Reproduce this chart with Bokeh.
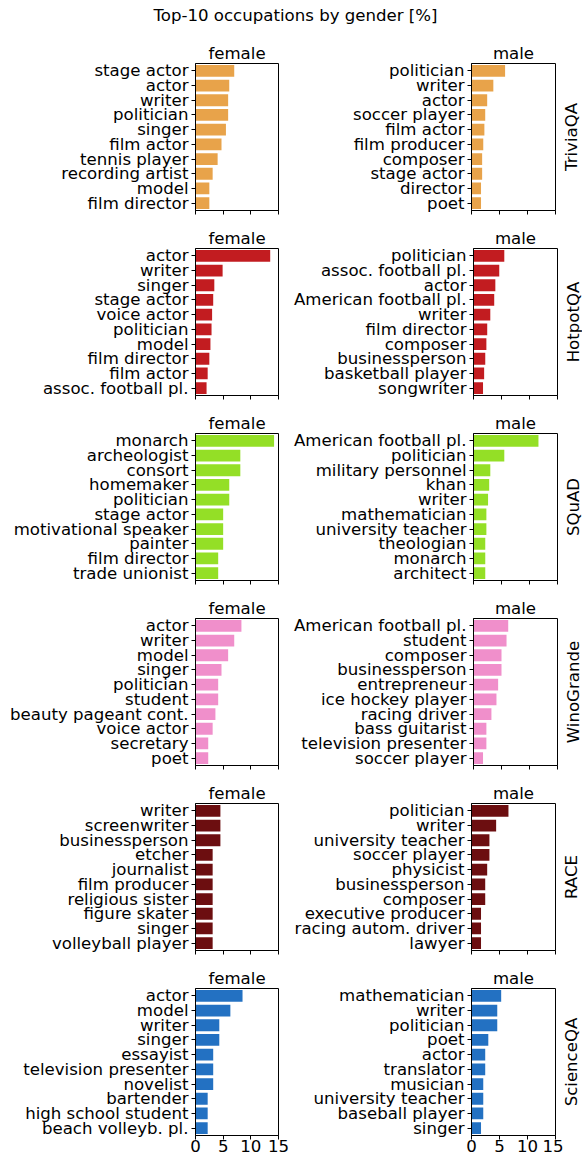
from bokeh.plotting import figure
from bokeh.models import FactorRange, Range1d, FixedTicker, ColumnDataSource
from bokeh.layouts import column, row
from bokeh.embed import file_html
from bokeh.resources import INLINE
from bokeh.core.properties import value

FONT = "DejaVu Sans"
FS = "16.6px"

suptitle = "Top-10 occupations by gender [%]"
datasets = ["TriviaQA", "HotpotQA", "SQuAD", "WinoGrande", "RACE", "ScienceQA"]
colors = ["#e8a34a", "#c21c20", "#94df26", "#f08fcb", "#6c0e10", "#2371c2"]
x_ticks = [0, 5, 10, 15]

triviaqa_female_occ = ["stage actor", "actor", "writer", "politician", "singer", "film actor",
                       "tennis player", "recording artist", "model", "film director"]
triviaqa_female_pct = [7.0, 6.1, 5.9, 5.9, 5.5, 4.7, 4.0, 3.1, 2.5, 2.5]
triviaqa_male_occ = ["politician", "writer", "actor", "soccer player", "film actor", "film producer",
                     "composer", "stage actor", "director", "poet"]
triviaqa_male_pct = [6.0, 3.9, 2.8, 2.45, 2.3, 2.1, 1.9, 1.9, 1.7, 1.7]

hotpotqa_female_occ = ["actor", "writer", "singer", "stage actor", "voice actor", "politician",
                       "model", "film director", "film actor", "assoc. football pl."]
hotpotqa_female_pct = [13.5, 4.9, 3.4, 3.2, 3.0, 2.9, 2.7, 2.5, 2.2, 2.0]
hotpotqa_male_occ = ["politician", "assoc. football pl.", "actor", "American football pl.", "writer",
                     "film director", "composer", "businessperson", "basketball player", "songwriter"]
hotpotqa_male_pct = [5.5, 4.6, 3.9, 3.7, 3.0, 2.45, 2.3, 2.1, 1.9, 1.7]

squad_female_occ = ["monarch", "archeologist", "consort", "homemaker", "politician", "stage actor",
                    "motivational speaker", "painter", "film director", "trade unionist"]
squad_female_pct = [14.2, 8.1, 8.1, 6.1, 6.1, 5.0, 5.0, 5.0, 4.1, 4.1]
squad_male_occ = ["American football pl.", "politician", "military personnel", "khan", "writer",
                  "mathematician", "university teacher", "theologian", "monarch", "architect"]
squad_male_pct = [11.6, 5.5, 3.0, 2.8, 2.6, 2.3, 2.3, 2.1, 2.1, 2.1]

winogrande_female_occ = ["actor", "writer", "model", "singer", "politician", "student",
                         "beauty pageant cont.", "voice actor", "secretary", "poet"]
winogrande_female_pct = [8.3, 7.0, 5.9, 4.7, 4.1, 4.1, 3.6, 3.1, 2.3, 2.3]
winogrande_male_occ = ["American football pl.", "student", "composer", "businessperson", "entrepreneur",
                       "ice hockey player", "racing driver", "bass guitarist", "television presenter",
                       "soccer player"]
winogrande_male_pct = [6.2, 5.9, 5.0, 5.0, 4.4, 4.1, 3.2, 2.3, 2.3, 1.7]

race_female_occ = ["writer", "screenwriter", "businessperson", "etcher", "journalist", "film producer",
                   "religious sister", "figure skater", "singer", "volleyball player"]
race_female_pct = [4.5, 4.5, 4.5, 3.1, 3.1, 3.1, 3.1, 3.1, 3.1, 3.1]
race_male_occ = ["politician", "writer", "university teacher", "soccer player", "physicist",
                 "businessperson", "composer", "executive producer", "racing autom. driver", "lawyer"]
race_male_pct = [6.6, 4.4, 3.2, 3.2, 2.8, 2.45, 2.45, 1.7, 1.7, 1.7]

scienceqa_female_occ = ["actor", "model", "writer", "singer", "essayist", "television presenter",
                        "novelist", "bartender", "high school student", "beach volleyb. pl."]
scienceqa_female_pct = [8.5, 6.3, 4.3, 4.3, 3.2, 3.2, 3.2, 2.2, 2.2, 2.2]
scienceqa_male_occ = ["mathematician", "writer", "politician", "poet", "actor", "translator",
                      "musician", "university teacher", "baseball player", "singer"]
scienceqa_male_pct = [5.3, 4.6, 4.6, 3.0, 2.45, 2.45, 2.1, 2.1, 2.1, 1.7]

female_data = [(triviaqa_female_occ, triviaqa_female_pct), (hotpotqa_female_occ, hotpotqa_female_pct),
               (squad_female_occ, squad_female_pct), (winogrande_female_occ, winogrande_female_pct),
               (race_female_occ, race_female_pct), (scienceqa_female_occ, scienceqa_female_pct)]
male_data = [(triviaqa_male_occ, triviaqa_male_pct), (hotpotqa_male_occ, hotpotqa_male_pct),
             (squad_male_occ, squad_male_pct), (winogrande_male_occ, winogrande_male_pct),
             (race_male_occ, race_male_pct), (scienceqa_male_occ, scienceqa_male_pct)]

FRAME_H = 147
TOP = 22
BOT = 15
HEADER_H = 40
SIDE_W = 18


def make_panel(occ, pct, color, gender, is_female, last_row):
    fw = 83 if is_female else 84
    f = figure(x_range=Range1d(0, 15), y_range=FactorRange(factors=occ[::-1]),
               frame_width=fw, frame_height=FRAME_H,
               min_border_left=195 if is_female else 181,
               min_border_right=12 if is_female else 8,
               min_border_top=TOP, min_border_bottom=BOT,
               output_backend="svg", toolbar_location=None, title=gender)
    src = ColumnDataSource(dict(occ=occ, pct=pct))
    f.hbar(y="occ", right="pct", left=0, height=0.8, source=src, color=color, line_color=None)
    f.title.align = "center"
    f.title.text_font = FONT
    f.title.text_font_size = FS
    f.title.text_font_style = "normal"
    f.title.text_color = "black"
    f.title.standoff = 2
    f.title.offset = 0
    f.xgrid.visible = False
    f.ygrid.visible = False
    f.outline_line_color = "black"
    f.outline_line_alpha = 1
    f.outline_line_width = 1
    f.background_fill_color = "white"
    for ax in (f.xaxis[0], f.yaxis[0]):
        ax.axis_line_color = "black"
        ax.major_tick_line_color = "black"
        ax.major_tick_out = 4
        ax.major_tick_in = 0
        ax.minor_tick_out = 0
        ax.minor_tick_in = 0
        ax.major_label_text_font = FONT
        ax.major_label_text_color = "black"
        ax.major_label_text_font_size = FS
    f.yaxis.major_label_standoff = 3
    f.xaxis.ticker = FixedTicker(ticks=x_ticks)
    f.xaxis.major_label_standoff = 0
    if not last_row:
        f.xaxis.major_label_overrides = {t: "" for t in x_ticks}
    return f


def make_side_label(text):
    g = figure(x_range=Range1d(0, SIDE_W), y_range=Range1d(0, 1), frame_width=SIDE_W,
               frame_height=FRAME_H, min_border_left=0, min_border_right=0,
               min_border_top=TOP, min_border_bottom=BOT,
               x_axis_type=None, y_axis_type=None, output_backend="svg", toolbar_location=None)
    g.outline_line_color = None
    g.xgrid.visible = False
    g.ygrid.visible = False
    g.text(x=[8], y=[0.5], text=[text], angle=90, angle_units="deg",
           text_align="center", text_baseline="middle",
           text_font=value(FONT), text_font_size=value(FS), text_color="black")
    return g


header = figure(x_range=Range1d(0, 581), y_range=Range1d(0, HEADER_H), frame_width=581,
                frame_height=HEADER_H, min_border=0, x_axis_type=None, y_axis_type=None,
                output_backend="svg", toolbar_location=None)
header.outline_line_color = None
header.xgrid.visible = False
header.ygrid.visible = False
header.text(x=[295], y=[HEADER_H - 15], text=[suptitle], text_align="center", text_baseline="middle",
            text_font=value(FONT), text_font_size=value(FS), text_color="black")

rows = [header]
for i, ds in enumerate(datasets):
    last = i == len(datasets) - 1
    fo, fp = female_data[i]
    mo, mp = male_data[i]
    pf = make_panel(fo, fp, colors[i], "female", True, last)
    pm = make_panel(mo, mp, colors[i], "male", False, last)
    rows.append(row(pf, pm, make_side_label(ds)))

layout = column(*rows)
open("out.html", "w").write(file_html(layout, INLINE))
